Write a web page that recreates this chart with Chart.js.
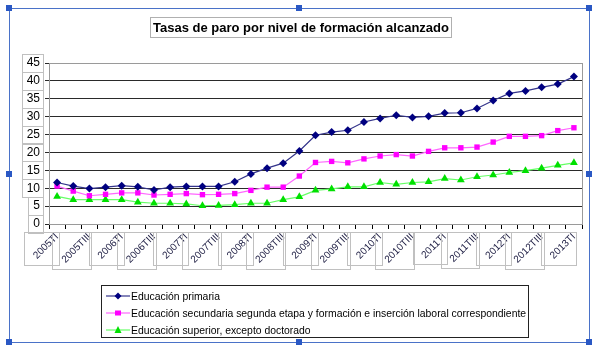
<!DOCTYPE html>
<html>
<head>
<meta charset="utf-8">
<script src="https://cdn.jsdelivr.net/npm/chart.js@4/dist/chart.umd.min.js"></script>
<style>
  body { margin: 0; background: #fff; font-family: Arial, "Liberation Sans", sans-serif; }
  #wrap { position: relative; width: 600px; height: 353px; overflow: hidden; }
  #chart { position: absolute; left: 0; top: 0; }
  .frame { position: absolute; left: 9px; top: 8px; width: 579px; height: 333px; border: 1px solid #4a72c8; }
  .handle { position: absolute; width: 6px; height: 6px; background: #2a58c4; }
  .title { position: absolute; left: 150px; top: 17px; width: 300px; height: 19px; border: 1px solid #b0b0b0;
           font: bold 13px Arial, "Liberation Sans", sans-serif; text-align: center; line-height: 19px; color: #000;
           white-space: nowrap; }
  .legend { position: absolute; left: 101px; top: 285px; width: 426px; height: 51px; border: 1px solid #222;
            font: 10.4px Arial, "Liberation Sans", sans-serif; color: #000; }
  .legend .row { position: absolute; left: 0; height: 17px; line-height: 17px; }
  .legend svg { position: absolute; left: 3px; top: 0; }
  .legend span { position: absolute; left: 29px; white-space: nowrap; }
</style>
</head>
<body>
<div id="wrap">
  <canvas id="chart" width="600" height="353"></canvas>
  <div class="frame"></div>
  <div class="handle" style="left:6px;top:5px"></div>
  <div class="handle" style="left:296px;top:5px"></div>
  <div class="handle" style="left:586px;top:5px"></div>
  <div class="handle" style="left:6px;top:171px"></div>
  <div class="handle" style="left:586px;top:171px"></div>
  <div class="handle" style="left:6px;top:339px"></div>
  <div class="handle" style="left:296px;top:339px"></div>
  <div class="handle" style="left:586px;top:339px"></div>
  <div class="title">Tasas de paro por nivel de formación alcanzado</div>
  <div class="legend" id="legend"></div>
</div>
<script>
// Trimestres 2005TI .. 2013TI
const years = ['2005', '2006', '2007', '2008', '2009', '2010', '2011', '2012'];
const quarters = ['TI', 'TII', 'TIII', 'TIV'];
const categories = [];
years.forEach(y => quarters.forEach(q => categories.push(y + q)));
categories.push('2013TI');

const seriesNames = [
  'Educación primaria',
  'Educación secundaria segunda etapa y formación e inserción laboral correspondiente',
  'Educación superior, excepto doctorado'
];

const primaria = [11.6, 10.6, 9.9, 10.3, 10.7, 10.4, 9.5, 10.3, 10.5, 10.5, 10.5, 11.8, 14.0, 15.6, 17.0, 20.4,
                  24.8, 25.7, 26.2, 28.5, 29.5, 30.4, 29.8, 30.1, 31.0, 31.1, 32.3, 34.5, 36.5, 37.2, 38.2, 39.1, 41.2];
const secundaria = [10.6, 9.2, 7.9, 8.3, 8.7, 8.7, 8.1, 8.3, 8.5, 8.2, 8.3, 8.5, 9.4, 10.3, 10.3, 13.4,
                    17.2, 17.5, 17.1, 18.2, 19.0, 19.4, 19.0, 20.3, 21.3, 21.3, 21.5, 22.9, 24.5, 24.5, 24.7, 26.1, 26.9];
const superior = [7.7, 6.8, 6.8, 6.8, 6.8, 6.1, 5.8, 5.8, 5.6, 5.1, 5.2, 5.4, 5.8, 5.8, 6.8, 7.6,
                  9.4, 9.8, 10.4, 10.4, 11.6, 11.1, 11.6, 11.8, 12.7, 12.3, 13.2, 13.7, 14.4, 14.9, 15.6, 16.4, 17.1];

const yTicks = [0, 5, 10, 15, 20, 25, 30, 35, 40, 45];

const styles = [
  { line: '#33338a', point: '#000080', shape: 'rectRot', r: 4 },
  { line: '#ff66ff', point: '#ff00ff', shape: 'rect', r: 3.8 },
  { line: '#66ff66', point: '#00e000', shape: 'triangle', r: 4.5 }
];

// Leyenda en HTML con su muestra de línea y marcador
const legend = document.getElementById('legend');
const markerSvg = [
  '<path d="M13 4.5 L16.5 8 L13 11.5 L9.5 8 Z" fill="#000080"/>',
  '<rect x="10" y="5.5" width="6" height="5" fill="#ff00ff"/>',
  '<path d="M13 4 L16.5 11 L9.5 11 Z" fill="#00e000"/>'
];
seriesNames.forEach((name, i) => {
  const row = document.createElement('div');
  row.className = 'row';
  row.style.top = (2 + i * 17) + 'px';
  row.innerHTML = '<svg width="26" height="17"><line x1="1" y1="8" x2="25" y2="8" stroke="' + styles[i].line +
    '" stroke-width="1.2"/>' + markerSvg[i] + '</svg><span>' + name + '</span>';
  legend.appendChild(row);
});

// Cajas grises alrededor de las etiquetas de los ejes y marco del área de trazado
const boxesPlugin = {
  id: 'boxes',
  afterDraw(chart) {
    const ctx = chart.ctx;
    const area = chart.chartArea;
    ctx.save();
    ctx.strokeStyle = '#9a9a9a';
    ctx.lineWidth = 1;
    ctx.strokeRect(Math.round(area.left) + 0.5, Math.round(area.top) + 0.5,
                   Math.round(area.right - area.left), Math.round(area.bottom - area.top));
    ctx.strokeStyle = '#c0c0c0';
    ctx.font = '12px Arial, "Liberation Sans", sans-serif';
    const ys = chart.scales.y;
    ys.ticks.forEach((t, i) => {
      const y = ys.getPixelForTick(i);
      const w = ctx.measureText(String(t.value)).width + 8;
      ctx.strokeRect(Math.round(43 - w) + 0.5, Math.round(y - 9) + 0.5, Math.round(w), 18);
    });
    ctx.font = '10px Arial, "Liberation Sans", sans-serif';
    const xs = chart.scales.x;
    categories.forEach((c, i) => {
      if (i % 2) return;
      const cx = xs.getPixelForValue(i);
      const s = Math.round((ctx.measureText(c).width + 8) * 0.707 + 7);
      ctx.strokeRect(Math.round(cx + 2 - s) + 0.5, 232.5, s, s - 2);
    });
    ctx.restore();
  }
};

const datasets = [primaria, secundaria, superior].map((data, i) => ({
  label: seriesNames[i],
  data: data,
  borderColor: styles[i].line,
  backgroundColor: styles[i].point,
  pointBackgroundColor: styles[i].point,
  pointBorderColor: styles[i].point,
  pointStyle: styles[i].shape,
  pointRadius: styles[i].r,
  pointBorderWidth: 0,
  borderWidth: 1.2,
  tension: 0,
  fill: false
}));

new Chart(document.getElementById('chart'), {
  type: 'line',
  data: { labels: categories, datasets: datasets },
  plugins: [boxesPlugin],
  options: {
    responsive: false,
    animation: false,
    layout: { padding: { left: 0, top: 63, right: 18, bottom: 79 } },
    plugins: {
      legend: { display: false },
      title: { display: false },
      tooltip: { enabled: false }
    },
    scales: {
      x: {
        offset: true,
        grid: { offset: true, drawOnChartArea: false, drawTicks: true, tickLength: 5, color: '#000' },
        border: { color: '#000', width: 1 },
        afterFit(scale) { scale.height = 50; },
        ticks: {
          autoSkip: false,
          maxRotation: 45,
          minRotation: 45,
          padding: 2,
          color: '#1a1a40',
          font: { family: 'Arial, "Liberation Sans", sans-serif', size: 10 },
          callback: (v, i) => (i % 2 === 0 ? categories[i] : '')
        }
      },
      y: {
        min: 0,
        max: 45,
        afterFit(scale) { scale.width = 49; },
        afterBuildTicks(scale) { scale.ticks = yTicks.map(v => ({ value: v })); },
        grid: { color: '#2a2a2a', lineWidth: 1, tickLength: 4 },
        border: { color: '#000', width: 1 },
        ticks: {
          padding: 5,
          color: '#000',
          font: { family: 'Arial, "Liberation Sans", sans-serif', size: 12 }
        }
      }
    }
  }
});
</script>
</body>
</html>
